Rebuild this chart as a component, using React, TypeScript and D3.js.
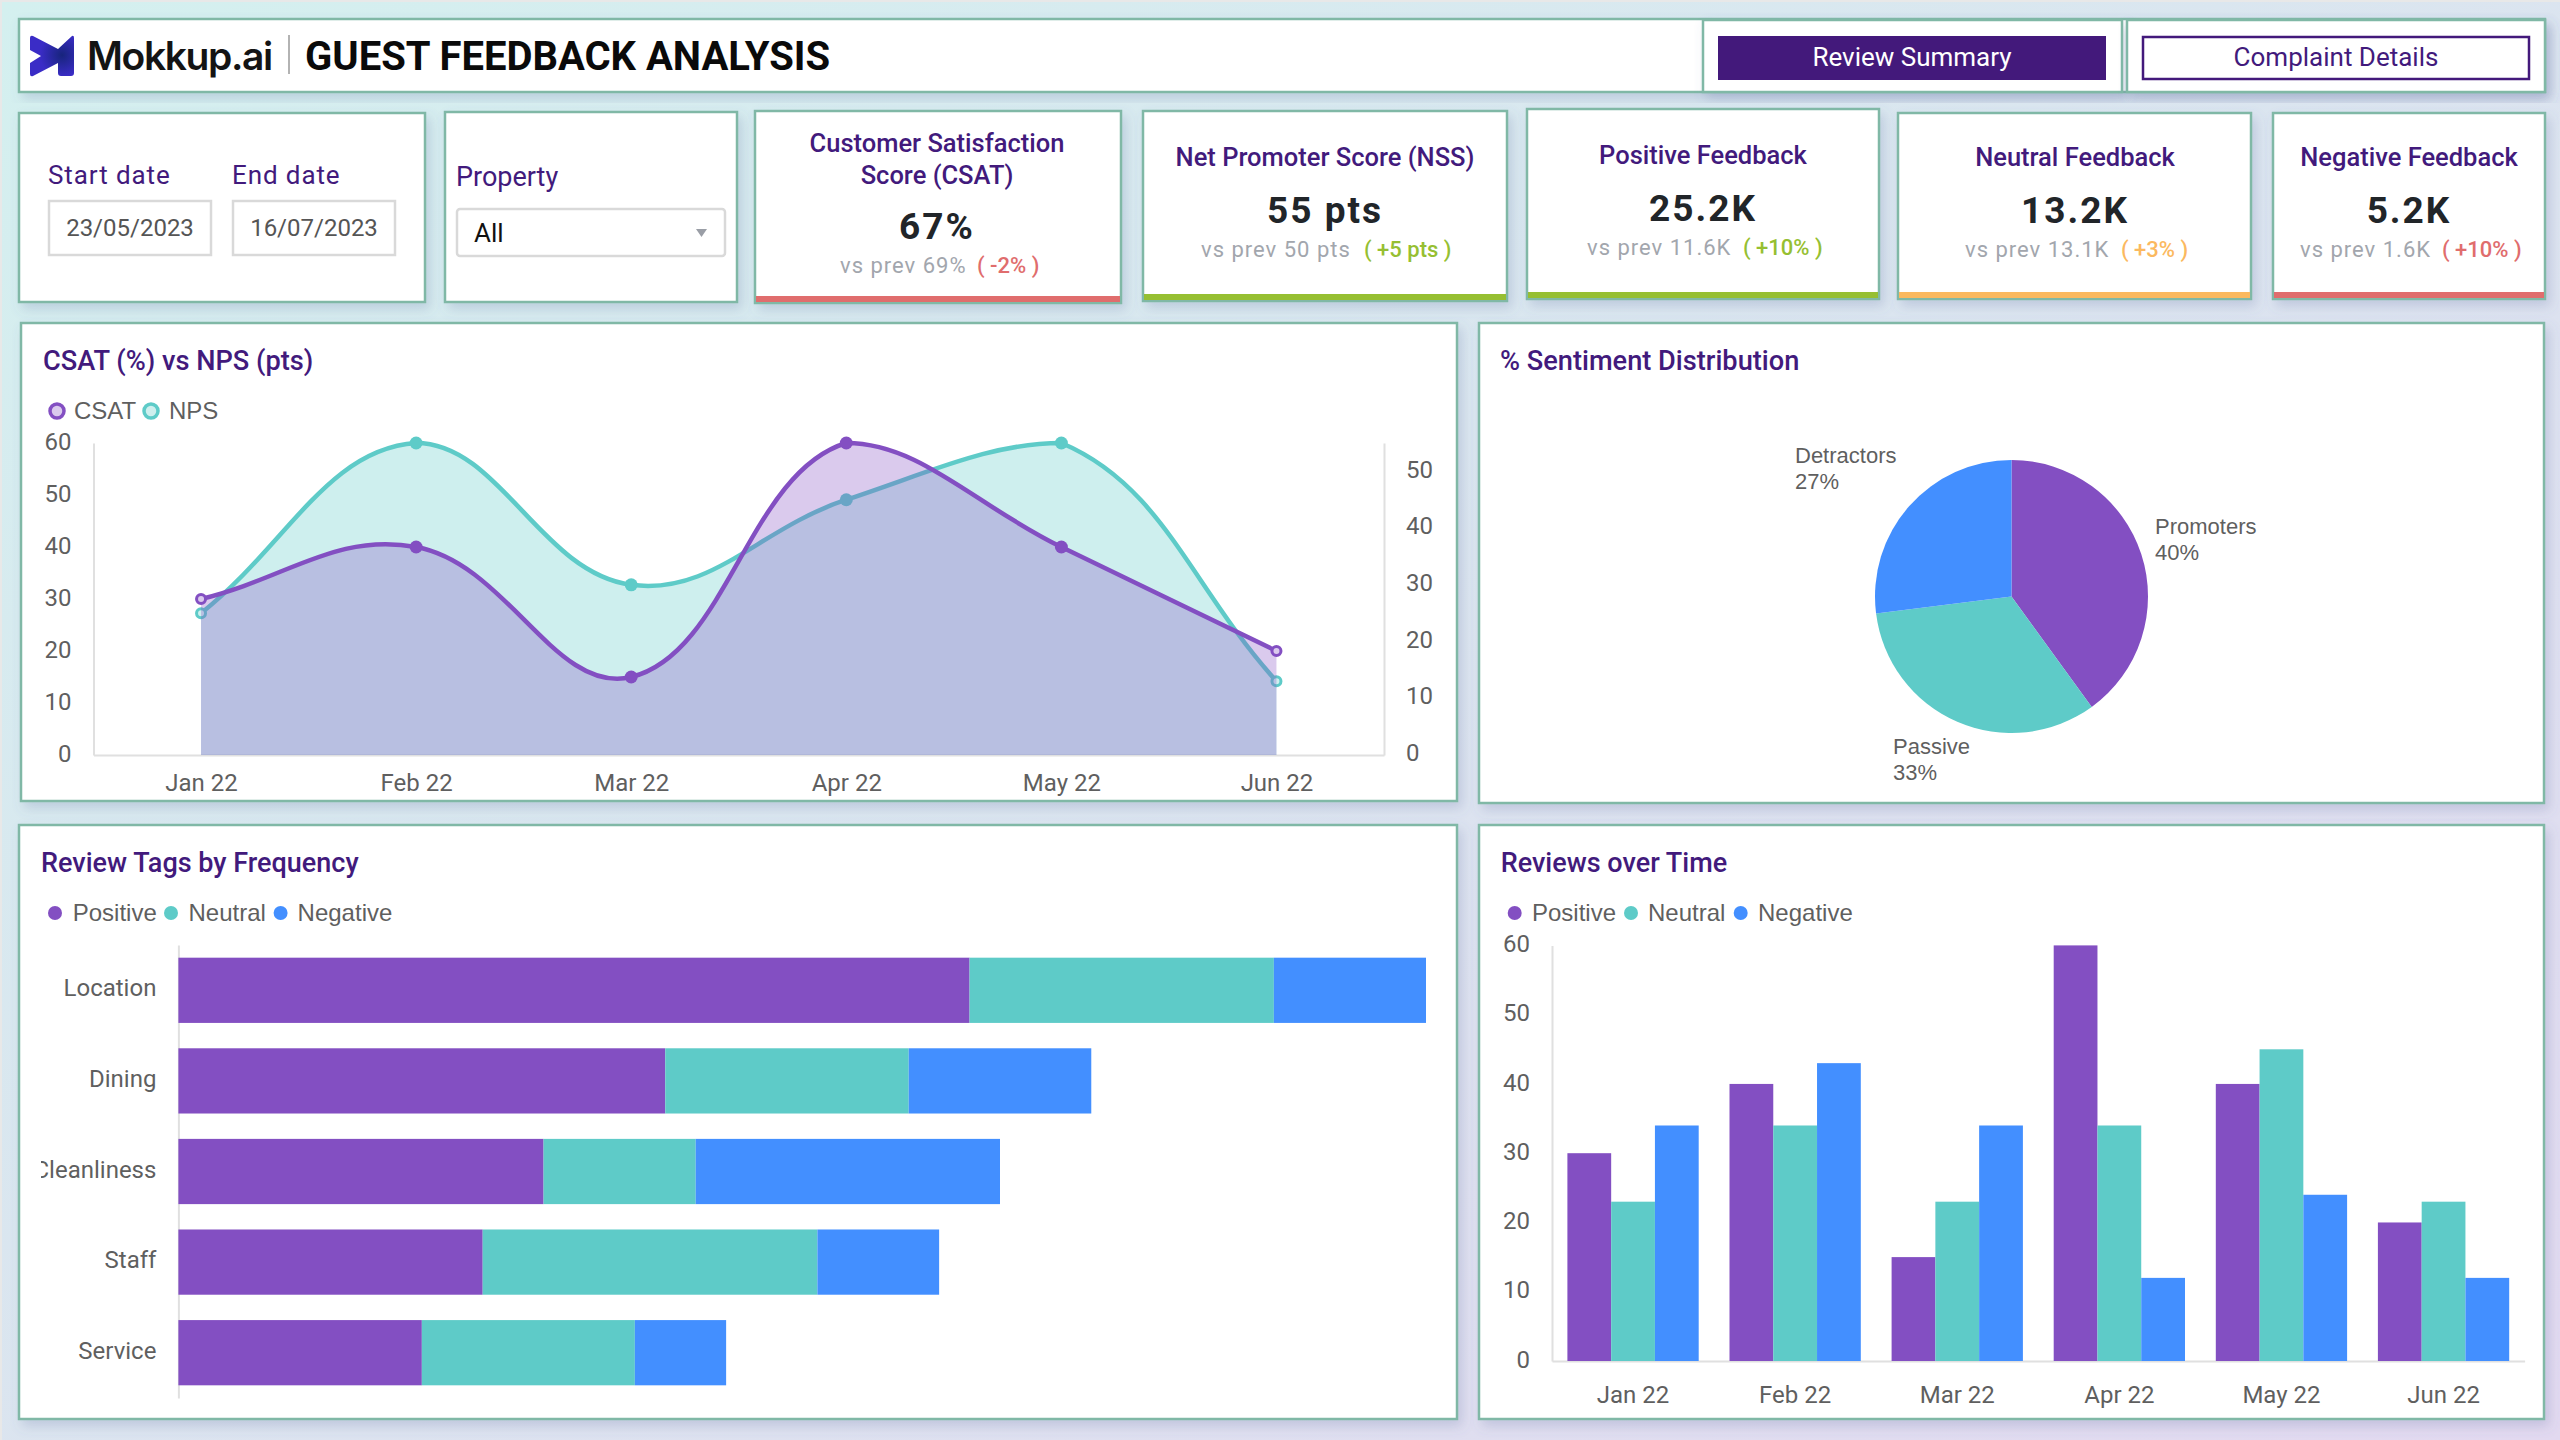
import { useEffect, useRef } from "react";
import * as d3 from "d3";

const months = ["Jan 22", "Feb 22", "Mar 22", "Apr 22", "May 22", "Jun 22"];
const csat = [30, 40, 15, 60, 40, 20];
const nps = [25, 55, 30, 45, 55, 13];
const csatTicks = [0, 10, 20, 30, 40, 50, 60];
const npsTicks = [0, 10, 20, 30, 40, 50];

const sentimentNames = ["Promoters", "Passive", "Detractors"];
const sentimentValues = [40, 33, 27];

const tagNames = ["Location", "Dining", "Cleanliness", "Staff", "Service"];
const tagPositive = [26, 16, 12, 10, 8];
const tagNeutral = [10, 8, 5, 11, 7];
const tagNegative = [5, 6, 10, 4, 3];

const reviewsPositive = [30, 40, 15, 60, 40, 20];
const reviewsNeutral = [23, 34, 23, 34, 45, 23];
const reviewsNegative = [34, 43, 34, 12, 24, 12];
const reviewTicks = [0, 10, 20, 30, 40, 50, 60];

const kpiTitles = [["Customer Satisfaction", "Score (CSAT)"], ["Net Promoter Score (NSS)"], ["Positive Feedback"], ["Neutral Feedback"], ["Negative Feedback"]];
const kpiValues = ["67%", "55 pts", "25.2K", "13.2K", "5.2K"];
const kpiPrev = ["vs prev 69%", "vs prev 50 pts", "vs prev 11.6K", "vs prev 13.1K", "vs prev 1.6K"];
const kpiDelta = ["( -2% )", "( +5 pts )", "( +10% )", "( +3% )", "( +10% )"];

const PURPLE = "#834fc2";
const TEAL = "#5ecbc8";
const BLUE = "#438fff";
const TITLE = "#421a7c";
const BORDER = "#80b8a6";
const AXIS = "#e0e0e0";
const LABEL = "#5f5f5f";
const ROBOTO = "Roboto, sans-serif";
const ARIAL = "'Liberation Sans', Arial, sans-serif";

const RED = "#e06d6d";
const GREEN = "#96bf32";
const ORANGE = "#fbb95f";

// card layout: x0, y0, x1, y1, accent strip colour, text centre, title/value/sub y, sub x, delta x
const kpiLayout = [
  { x0: 755, y0: 111, x1: 1121, y1: 303, color: RED, cx: 937, titleY: [143.5, 175], valueY: 226, subY: 265, subX: 840, deltaX: 977 },
  { x0: 1143, y0: 111, x1: 1507, y1: 301, color: GREEN, cx: 1325, titleY: [157], valueY: 210, subY: 249, subX: 1201, deltaX: 1364 },
  { x0: 1527, y0: 109, x1: 1879, y1: 299, color: GREEN, cx: 1703, titleY: [155], valueY: 208, subY: 247, subX: 1587, deltaX: 1743 },
  { x0: 1898, y0: 113, x1: 2251, y1: 299, color: ORANGE, cx: 2075, titleY: [157], valueY: 210, subY: 249, subX: 1965, deltaX: 2121 },
  { x0: 2273, y0: 113, x1: 2545, y1: 299, color: RED, cx: 2409, titleY: [157], valueY: 210, subY: 249, subX: 2300, deltaX: 2442 },
];

type G = d3.Selection<SVGGElement, unknown, null, undefined>;

// spline with tension, control points capped to the plot area
function curveCapped(x0: number, x1: number, y0: number, y1: number, tension = 0.4) {
  const cap = (v: number, a: number, b: number) => Math.max(a, Math.min(b, v));
  return (context: any) => {
    let mode: number = NaN;
    let pts: [number, number][] = [];
    return {
      areaStart() { mode = 0; },
      areaEnd() { mode = NaN; },
      lineStart() { pts = []; },
      point(x: number, y: number) { pts.push([+x, +y]); },
      lineEnd() {
        if (mode) context.lineTo(pts[0][0], pts[0][1]);
        else context.moveTo(pts[0][0], pts[0][1]);
        const out = pts.map((cur, i) => {
          const prev = pts[i - 1] ?? cur;
          const next = pts[i + 1] ?? cur;
          const d01 = Math.hypot(cur[0] - prev[0], cur[1] - prev[1]);
          const d12 = Math.hypot(next[0] - cur[0], next[1] - cur[1]);
          const sum = d01 + d12 || 1;
          const fa = (tension * d01) / sum;
          const fb = (tension * d12) / sum;
          return {
            px: cap(cur[0] - fa * (next[0] - prev[0]), x0, x1),
            py: cap(cur[1] - fa * (next[1] - prev[1]), y0, y1),
            nx: cap(cur[0] + fb * (next[0] - prev[0]), x0, x1),
            ny: cap(cur[1] + fb * (next[1] - prev[1]), y0, y1),
          };
        });
        for (let i = 1; i < pts.length; i++) {
          context.bezierCurveTo(out[i - 1].nx, out[i - 1].ny, out[i].px, out[i].py, pts[i][0], pts[i][1]);
        }
        if (mode === 1) context.closePath();
        mode = 1 - mode;
      },
    };
  };
}

function txt(g: G, x: number, y: number, s: string, o: { size: number; fill: string; weight?: number; anchor?: string; font?: string; ls?: number }) {
  return g.append("text")
    .attr("x", x)
    .attr("y", y)
    .attr("dy", "0.35em")
    .attr("font-family", o.font ?? ROBOTO)
    .attr("font-size", o.size)
    .attr("font-weight", o.weight ?? 400)
    .attr("fill", o.fill)
    .attr("text-anchor", o.anchor ?? "start")
    .attr("letter-spacing", o.ls ?? 0)
    .text(s);
}

function card(g: G, x0: number, y0: number, x1: number, y1: number) {
  g.append("rect")
    .attr("x", x0).attr("y", y0)
    .attr("width", x1 - x0).attr("height", y1 - y0)
    .attr("fill", "#fff")
    .attr("stroke", BORDER)
    .attr("stroke-width", 2.5)
    .attr("filter", "url(#cardShadow)");
}

function legend(g: G, y: number, items: { x: number; tx: number; label: string; color: string }[]) {
  items.forEach((it) => {
    g.append("circle").attr("cx", it.x).attr("cy", y).attr("r", 7).attr("fill", it.color);
    txt(g, it.tx, y, it.label, { size: 24, fill: LABEL, font: ARIAL });
  });
}

export default function App() {
  const svgRef = useRef<SVGSVGElement>(null);

  useEffect(() => {
    if (!svgRef.current) return;
    const svg = d3.select(svgRef.current);
    svg.selectAll("*").remove();

    const defs = svg.append("defs");
    const bg = defs.append("linearGradient").attr("id", "pageBg")
      .attr("x1", "0%").attr("y1", "0%").attr("x2", "100%").attr("y2", "100%");
    bg.append("stop").attr("offset", "0%").attr("stop-color", "#d4f0ef");
    bg.append("stop").attr("offset", "100%").attr("stop-color", "#e2d9f0");
    const sh = defs.append("filter").attr("id", "cardShadow")
      .attr("x", "-5%").attr("y", "-10%").attr("width", "110%").attr("height", "125%");
    sh.append("feDropShadow").attr("dx", 4).attr("dy", 6).attr("stdDeviation", 6)
      .attr("flood-color", "#5a6c9c").attr("flood-opacity", 0.22);
    const logoGrad = defs.append("radialGradient").attr("id", "logoGrad")
      .attr("gradientUnits", "userSpaceOnUse").attr("cx", 62).attr("cy", 55).attr("r", 22);
    logoGrad.append("stop").attr("offset", "0%").attr("stop-color", "#17247c");
    logoGrad.append("stop").attr("offset", "100%").attr("stop-color", "#3a2cc6");
    const clip = defs.append("clipPath").attr("id", "tagClip");
    clip.append("rect").attr("x", 41).attr("y", 940).attr("width", 145).attr("height", 465);

    svg.append("rect").attr("width", 2560).attr("height", 1440).attr("fill", "#e8e8e8");
    svg.append("rect").attr("x", 2).attr("y", 2).attr("width", 2558).attr("height", 1438).attr("fill", "url(#pageBg)");

    const root = svg.append("g") as unknown as G;

    // ── Header ────────────────────────────────────────────────────────────
    card(root, 19, 19, 2545, 92);
    root.append("path").attr("fill", "url(#logoGrad)")
      .attr("d", "M30 38 Q30 35 33 36 L58 49 L72 36 Q74 35 74 38 L74 73 Q74 76 71 76 L61 76 Q58 76 58 73 L58 63 L33 76 Q30 77 30 74 L30 63 L41 56 L30 50 Z");
    txt(root, 87, 56, "Mokkup.ai", { size: 39, fill: "#141414", weight: 600, font: "Inter, sans-serif", ls: -1.4 });
    root.append("line").attr("x1", 289).attr("x2", 289).attr("y1", 35).attr("y2", 74).attr("stroke", "#9a9a9a").attr("stroke-width", 1.5);
    txt(root, 305, 56, "GUEST FEEDBACK ANALYSIS", { size: 40, fill: "#0a0a0a", weight: 700 });

    card(root, 1703, 20, 2122, 92);
    card(root, 2127, 20, 2545, 92);
    root.append("rect").attr("x", 1718).attr("y", 36).attr("width", 388).attr("height", 44).attr("fill", "#43197b");
    txt(root, 1912, 57, "Review Summary", { size: 26, fill: "#fff", anchor: "middle" });
    root.append("rect").attr("x", 2143).attr("y", 37).attr("width", 386).attr("height", 42).attr("fill", "#fff").attr("stroke", "#43197b").attr("stroke-width", 2.5);
    txt(root, 2336, 57, "Complaint Details", { size: 26, fill: TITLE, anchor: "middle" });

    // ── Filters ───────────────────────────────────────────────────────────
    card(root, 19, 113, 425, 302);
    txt(root, 48, 175, "Start date", { size: 26, fill: TITLE, ls: 0.9 });
    txt(root, 232, 175, "End date", { size: 26, fill: TITLE, ls: 0.9 });
    [[48, 164, "23/05/2023"], [232, 164, "16/07/2023"]].forEach(([x, w, label]) => {
      root.append("rect").attr("x", (x as number) + 1).attr("y", 201).attr("width", (w as number) - 2).attr("height", 54)
        .attr("fill", "#fff").attr("stroke", "#d9d9d9").attr("stroke-width", 2.5);
      txt(root, (x as number) + (w as number) / 2, 228, label as string, { size: 24, fill: "#555", anchor: "middle" });
    });

    card(root, 445, 112, 737, 302);
    txt(root, 456, 177, "Property", { size: 27, fill: TITLE });
    root.append("rect").attr("x", 457).attr("y", 209).attr("width", 268).attr("height", 47).attr("rx", 3)
      .attr("fill", "#fff").attr("stroke", "#d9d9d9").attr("stroke-width", 2.5);
    txt(root, 474, 233, "All", { size: 26, fill: "#111" });
    root.append("path").attr("d", "M696 229 L707 229 L701.5 237 Z").attr("fill", "#9a9ea6");

    // ── KPI cards ─────────────────────────────────────────────────────────
    kpiLayout.forEach((k, i) => {
      card(root, k.x0, k.y0, k.x1, k.y1);
      root.append("rect").attr("x", k.x0 + 1).attr("y", k.y1 - 7).attr("width", k.x1 - k.x0 - 2).attr("height", 6).attr("fill", k.color);
      kpiTitles[i].forEach((t, j) => {
        txt(root, k.cx, k.titleY[j], t, { size: 25.5, fill: TITLE, weight: 500, anchor: "middle" });
      });
      txt(root, k.cx, k.valueY, kpiValues[i], { size: 37, fill: "#212529", weight: 700, anchor: "middle", ls: 2 });
      txt(root, k.subX, k.subY, kpiPrev[i], { size: 22, fill: "#a2a6ad", ls: 1 });
      txt(root, k.deltaX, k.subY, kpiDelta[i], { size: 22, fill: k.color, weight: 500 });
    });

    // ── CSAT vs NPS ───────────────────────────────────────────────────────
    card(root, 21, 323, 1457, 801);
    txt(root, 43, 360, "CSAT (%) vs NPS (pts)", { size: 27.2, fill: TITLE, weight: 500 });
    [[57, 74, "CSAT", PURPLE], [151, 169, "NPS", TEAL]].forEach(([x, tx, label, color]) => {
      root.append("circle").attr("cx", x as number).attr("cy", 411).attr("r", 7)
        .attr("fill", d3.color(color as string)!.copy({ opacity: 0.3 }).formatRgb())
        .attr("stroke", color as string).attr("stroke-width", 3.5);
      txt(root, tx as number, 411, label as string, { size: 24, fill: LABEL, font: ARIAL });
    });

    const lineX = d3.scalePoint<string>().domain(months).range([93.5, 1384]).padding(0.5);
    const yCsat = d3.scaleLinear().domain([0, 60]).range([755, 443]);
    const yNps = d3.scaleLinear().domain([0, 55]).range([755, 443]);
    const curve = curveCapped(93.5, 1384, 443, 755) as unknown as d3.CurveFactory;

    const axisCsat = d3.axisLeft(yCsat).tickValues(csatTicks).tickSize(0).tickPadding(22);
    const axisNps = d3.axisRight(yNps).tickValues(npsTicks).tickSize(0).tickPadding(22);
    const axisMonths = d3.axisBottom(lineX).tickSize(0).tickPadding(19);

    const styleAxis = (ax: any, dx = 0, dy = 0) => {
      ax.select(".domain").attr("stroke", AXIS).attr("stroke-width", 2);
      ax.selectAll("text")
        .attr("fill", LABEL)
        .attr("font-family", ROBOTO)
        .attr("font-size", 24)
        .attr("transform", `translate(${dx},${dy})`);
    };

    root.append("g").attr("transform", "translate(93.5,0)").call(axisCsat).call((ax) => styleAxis(ax, 0, -1.5));
    root.append("g").attr("transform", "translate(1384,0)").call(axisNps).call((ax) => styleAxis(ax, 0, -2));
    root.append("g").attr("transform", "translate(0,755)").call(axisMonths).call((ax) => styleAxis(ax));

    const drawSeries = (values: number[], y: d3.ScaleLinear<number, number>, color: string) => {
      const area = d3.area<number>()
        .x((_, i) => lineX(months[i])!)
        .y0(y(0))
        .y1((d) => y(d))
        .curve(curve);
      root.append("path").datum(values).attr("d", area).attr("fill", color).attr("fill-opacity", 0.3);
    };
    const drawLine = (values: number[], y: d3.ScaleLinear<number, number>, color: string) => {
      const line = d3.line<number>()
        .x((_, i) => lineX(months[i])!)
        .y((d) => y(d))
        .curve(curve);
      root.append("path").datum(values).attr("d", line).attr("fill", "none").attr("stroke", color).attr("stroke-width", 4.5);
      values.forEach((v, i) => {
        const edge = i === 0 || i === values.length - 1;
        const tint = d3.interpolateRgb("#fff", color)(0.3);
        root.append("circle")
          .attr("cx", lineX(months[i])!)
          .attr("cy", y(v))
          .attr("r", edge ? 4.5 : 6.5)
          .attr("fill", edge ? tint : color)
          .attr("stroke", edge ? color : "none")
          .attr("stroke-width", edge ? 3 : 0);
      });
    };
    drawSeries(nps, yNps, TEAL);
    drawLine(nps, yNps, TEAL);
    drawSeries(csat, yCsat, PURPLE);
    drawLine(csat, yCsat, PURPLE);

    // ── Sentiment pie ─────────────────────────────────────────────────────
    card(root, 1479, 323, 2544, 803);
    txt(root, 1500, 360, "% Sentiment Distribution", { size: 27.2, fill: TITLE, weight: 500 });
    const pie = d3.pie<number>().sort(null)(sentimentValues);
    const arc = d3.arc<d3.PieArcDatum<number>>().innerRadius(0).outerRadius(136.5);
    const pieColors = [PURPLE, TEAL, BLUE];
    const pieG = root.append("g").attr("transform", "translate(2011.5,596.5)") as unknown as G;
    pie.forEach((p, i) => {
      pieG.append("path").attr("d", arc(p)!).attr("fill", pieColors[i]);
    });
    [[2155, 526], [1893, 746], [1795, 455]].forEach(([x, y], i) => {
      txt(root, x, y, sentimentNames[i], { size: 22, fill: LABEL, font: ARIAL });
      txt(root, x, y + 26.5, `${sentimentValues[i]}%`, { size: 22, fill: LABEL, font: ARIAL });
    });

    // ── Review tags ───────────────────────────────────────────────────────
    card(root, 19, 825, 1457, 1419);
    txt(root, 41, 862.5, "Review Tags by Frequency", { size: 27, fill: TITLE, weight: 500 });
    legend(root, 913, [
      { x: 55, tx: 72.7, label: "Positive", color: PURPLE },
      { x: 171, tx: 188.5, label: "Neutral", color: TEAL },
      { x: 280.6, tx: 297.6, label: "Negative", color: BLUE },
    ]);
    const tagY = d3.scaleBand<string>().domain(tagNames).range([945, 1398]).paddingInner(0.28).paddingOuter(0.14);
    const tagX = d3.scaleLinear().domain([0, 41]).range([178.4, 1426]);
    root.append("g").attr("clip-path", "url(#tagClip)").append("g").attr("transform", "translate(178.4,0)")
      .call(d3.axisLeft(tagY).tickSize(0).tickPadding(22))
      .call((ax) => styleAxis(ax, 0, -1.5));
    const tagStack = d3.stack<number>()
      .keys(["0", "1", "2"])
      .value((i, key) => [tagPositive, tagNeutral, tagNegative][+key][i])(d3.range(tagNames.length));
    tagStack.forEach((layer, s) => {
      layer.forEach((seg, i) => {
        root.append("rect")
          .attr("x", tagX(seg[0]))
          .attr("y", tagY(tagNames[i])!)
          .attr("width", tagX(seg[1]) - tagX(seg[0]))
          .attr("height", tagY.bandwidth())
          .attr("fill", pieColors[s]);
      });
    });

    // ── Reviews over time ─────────────────────────────────────────────────
    card(root, 1479, 825, 2544, 1419);
    txt(root, 1500.7, 862.5, "Reviews over Time", { size: 27, fill: TITLE, weight: 500 });
    legend(root, 913, [
      { x: 1514.7, tx: 1532, label: "Positive", color: PURPLE },
      { x: 1631, tx: 1648, label: "Neutral", color: TEAL },
      { x: 1740.7, tx: 1758, label: "Negative", color: BLUE },
    ]);
    const revX = d3.scaleBand<string>().domain(months).range([1552, 2524.6]).paddingInner(0.19).paddingOuter(0.095);
    const revSub = d3.scaleBand<number>().domain([0, 1, 2]).range([0, revX.bandwidth()]);
    const revY = d3.scaleLinear().domain([0, 60]).range([1361, 945.4]);
    root.append("g").attr("transform", "translate(1552,0)")
      .call(d3.axisLeft(revY).tickValues(reviewTicks).tickSize(0).tickPadding(22))
      .call((ax) => styleAxis(ax, 0, -1.5));
    root.append("g").attr("transform", "translate(0,1361)")
      .call(d3.axisBottom(revX).tickSize(0).tickPadding(25))
      .call((ax) => styleAxis(ax));
    [reviewsPositive, reviewsNeutral, reviewsNegative].forEach((series, s) => {
      series.forEach((v, i) => {
        root.append("rect")
          .attr("x", revX(months[i])! + revSub(s)!)
          .attr("y", revY(v))
          .attr("width", revSub.bandwidth())
          .attr("height", revY(0) - revY(v))
          .attr("fill", pieColors[s]);
      });
    });
  }, []);

  return (
    <svg
      ref={svgRef}
      width={2560}
      height={1440}
      viewBox="0 0 2560 1440"
      style={{ position: "fixed", left: 0, top: 0, display: "block" }}
    />
  );
}
